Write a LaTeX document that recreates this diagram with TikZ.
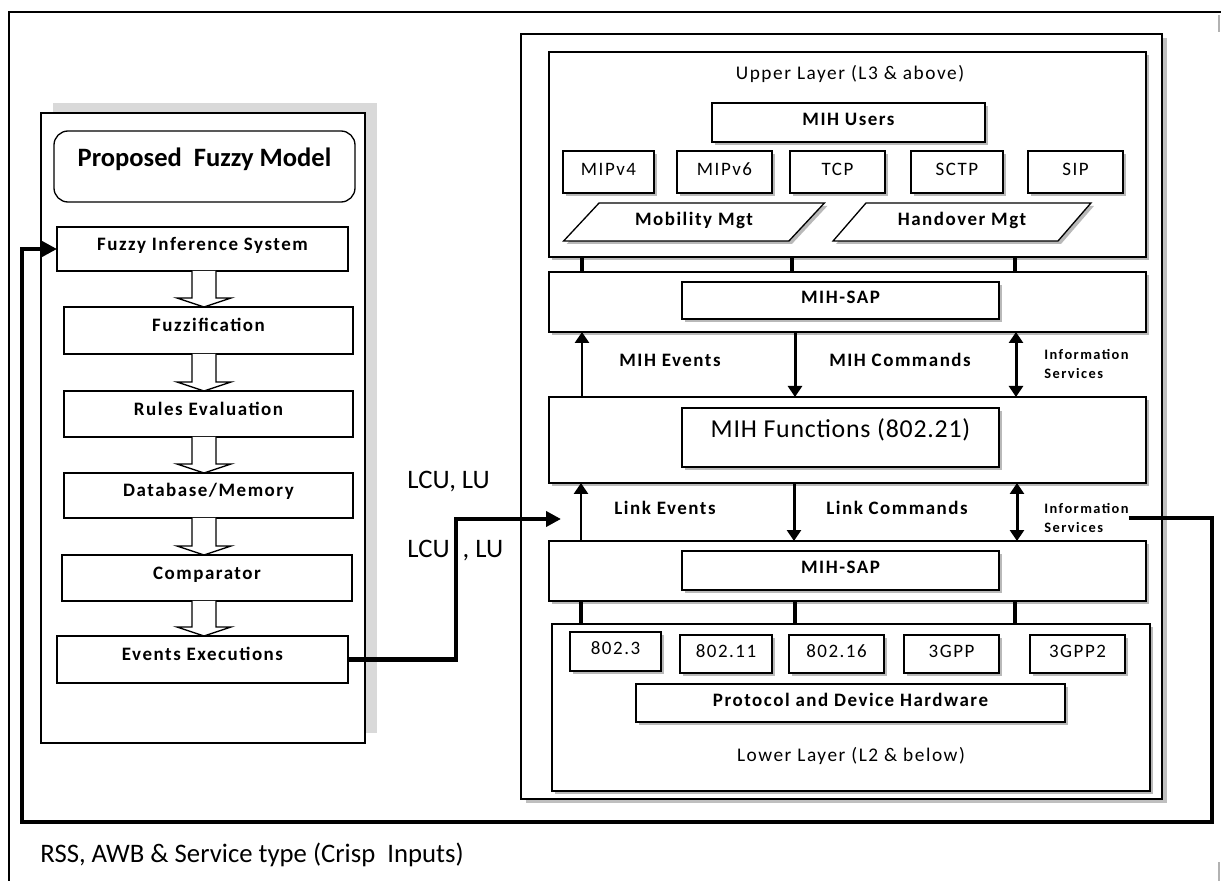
\documentclass[tikz,border=0pt]{standalone}
\usepackage{fontspec}
\setmainfont{Carlito}
\newfontfamily\spaced[LetterSpace=8]{Carlito}
\newfontfamily\spacedsm[LetterSpace=10]{Carlito}
\newfontfamily\slight[LetterSpace=3]{Carlito}
\usetikzlibrary{arrows.meta,shapes.geometric,shadows,calc}
\newcommand{\ftlab}{\spaced\bfseries\fontsize{10.8pt}{12pt}\selectfont}
\newcommand{\ftreg}{\spaced\fontsize{10.8pt}{12pt}\selectfont}
\newcommand{\ftsml}{\spacedsm\bfseries\fontsize{8.2pt}{11.3pt}\selectfont}
\newcommand{\ftlay}{\spaced\fontsize{11pt}{12pt}\selectfont}
\newcommand{\ftfun}{\slight\fontsize{14.7pt}{17pt}\selectfont}
\newcommand{\fttitle}{\bfseries\fontsize{15.1pt}{17pt}\selectfont}
\newcommand{\ftbig}{\fontsize{15.2pt}{17pt}\selectfont}
\newcommand{\bx}[7][]{\node[bx,#1,minimum width={(#5-#3)*0.02cm},minimum height={(#6-#4)*0.02cm}] (#2) at ({(#3+#5)/2},{(#4+#6)/2}) {#7};}
\newcommand{\harrow}[2]{\draw[harr] ($(ax |- #1.south)+(-12,0)$) -- ($(ax |- #2.north)+(-12,-9)$) -- ($(ax |- #2.north)+(-27,-9)$) -- (ax |- #2.north) -- ($(ax |- #2.north)+(27,-9)$) -- ($(ax |- #2.north)+(12,-9)$) -- ($(ax |- #1.south)+(12,0)$);}
\tikzset{
  bx/.style={draw, line width=0.75pt, fill=white, inner sep=0pt, outer sep=0pt, text height=0.25cm, text depth=0.12cm},
  lft/.style={text height=0.25cm, text depth=0.2cm},
  sh/.style={drop shadow={shadow xshift=0.06cm, shadow yshift=-0.06cm, fill=gray!55, opacity=1}},
  bigsh/.style={drop shadow={shadow xshift=0.09cm, shadow yshift=-0.09cm, fill=gray!50, opacity=1}},
  para/.style={trapezium, trapezium left angle=40, trapezium right angle=140, trapezium stretches=true, draw, line width=0.75pt, fill=white, inner sep=0pt, sh, text height=0.25cm, text depth=0.12cm},
  lbl/.style={inner sep=0pt, anchor=base},
  thk/.style={line width=2.3pt},
  conn/.style={line width=2pt},
  marr/.style={line width=1.7pt, -{Triangle[length=0.22cm,width=0.28cm]}},
  darr/.style={line width=1.7pt, {Triangle[length=0.22cm,width=0.28cm]}-{Triangle[length=0.22cm,width=0.28cm]}},
  harr/.style={line width=0.8pt, fill=white},
  bigtip/.style={-{Triangle[length=0.3cm,width=0.3cm]}}
}
\begin{document}
\begin{tikzpicture}[x=0.02cm,y=-0.02cm]
\useasboundingbox (0,0) rectangle (1221,881);
% outer frame fragments
\draw[line width=0.8pt] (9,881) -- (9,12) -- (1221,12);
\draw[gray!60, line width=1pt] (1219,15) -- (1219,32);
\draw[gray!60, line width=1pt] (1219,862) -- (1219,881);

% ---------- left panel ----------
\fill[gray!30] (53,103) rectangle (377,733);
\bx{lpanel}{41}{113}{365}{743}{}
\node[draw, line width=0.75pt, rounded corners=0.28cm, fill=white, inner sep=0pt,
      minimum width={301*0.02cm}, minimum height={71*0.02cm},
      text height=0.34cm, text depth=0.34cm] (title) at (204.5,166.5) {\fttitle Proposed~ Fuzzy Model};
\bx[lft]{fis}{57}{227}{348}{271}{\ftlab Fuzzy Inference System}
\bx[lft]{fuzz}{64}{307}{353}{354}{\ftlab Fuzzification}
\bx[lft]{rules}{64}{391}{353}{437}{\ftlab Rules Evaluation}
\bx[lft]{db}{64}{473}{353}{518}{\ftlab Database/Memory}
\bx[lft]{comp}{62}{555}{352}{601}{\ftlab Comparator}
\bx[lft]{ev}{57}{636}{348}{683}{\ftlab Events Executions}
\coordinate (ax) at (204,0);
\harrow{fis}{fuzz}
\harrow{fuzz}{rules}
\harrow{rules}{db}
\harrow{db}{comp}
\harrow{comp}{ev}

% ---------- right panel ----------
\bx[bigsh]{rpanel}{521}{34}{1162}{799}{}
\bx[sh]{upper}{549}{52}{1146}{257}{}
\node[lbl] (uplbl) at (850,80) {\ftlay Upper Layer (L3 \& above)};
\bx[sh]{users}{712}{103}{985}{142}{\ftlab MIH Users}
\bx[sh]{mip4}{563}{151}{654}{193}{\ftreg MIPv4}
\bx[sh]{mip6}{677}{151}{772}{193}{\ftreg MIPv6}
\bx[sh]{tcp}{790}{151}{885}{193}{\ftreg TCP}
\bx[sh]{sctp}{911}{151}{1003}{193}{\ftreg SCTP}
\bx[sh]{sip}{1028}{151}{1123}{193}{\ftreg SIP}
\node[para, minimum width={262*0.02cm}, minimum height={38*0.02cm}] (mob) at (694,222) {\ftlab Mobility Mgt};
\node[para, minimum width={260*0.02cm}, minimum height={38*0.02cm}] (hand) at (962,222) {\ftlab Handover Mgt};

\bx[sh]{sap1o}{549}{272}{1146}{332}{}
\bx[sh]{sap1}{682}{282}{999}{319}{\ftlab MIH-SAP}
\bx[sh]{funco}{549}{397}{1146}{483}{}
\bx[sh,text height=0.3cm,text depth=0.3cm]{funci}{682}{408}{999}{467}{\ftfun MIH Functions (802.21)}
\bx[sh]{sap2o}{549}{541}{1146}{601}{}
\bx[sh]{sap2}{682}{551}{999}{590}{\ftlab MIH-SAP}
\bx[sh]{lower}{552}{624}{1150}{791}{}
\bx[sh]{e3}{570}{632}{661}{671}{\ftreg 802.3}
\bx[sh]{e11}{680}{635}{772}{673}{\ftreg 802.11}
\bx[sh]{e16}{789}{635}{884}{673}{\ftreg 802.16}
\bx[sh]{g3}{904}{635}{999}{673}{\ftreg 3GPP}
\bx[sh]{g32}{1030}{635}{1125}{673}{\ftreg 3GPP2}
\bx[sh]{pdh}{636}{684}{1065}{722}{\ftlab Protocol and Device Hardware}
\node[lbl] (lowlbl) at (851,762) {\ftlay Lower Layer (L2 \& below)};

% vertical connectors
\draw[conn] (582,0 |- upper.south) -- (582,0 |- sap1o.north);
\draw[conn] (792,0 |- upper.south) -- (792,0 |- sap1o.north);
\draw[conn] (1015,0 |- upper.south) -- (1015,0 |- sap1o.north);
\draw[conn] (581,0 |- sap2o.south) -- (581,0 |- lower.north);
\draw[conn] (795,0 |- sap2o.south) -- (795,0 |- lower.north);
\draw[conn] (1015,0 |- sap2o.south) -- (1015,0 |- lower.north);

% primitive arrows
\draw[marr] (582,0 |- funco.north) -- (582,0 |- sap1o.south);
\draw[marr] (795,0 |- sap1o.south) -- (795,0 |- funco.north);
\draw[darr] (1016,0 |- sap1o.south) -- (1016,0 |- funco.north);
\draw[marr] (581,0 |- sap2o.north) -- (581,0 |- funco.south);
\draw[marr] (794,0 |- funco.south) -- (794,0 |- sap2o.north);
\draw[darr] (1017,0 |- funco.south) -- (1017,0 |- sap2o.north);

\node[lbl] (mev) at (670,367) {\ftlab MIH Events};
\node[lbl] (mcmd) at (900,367) {\ftlab MIH Commands};
\node[lbl] (lev) at (665,515) {\ftlab Link Events};
\node[lbl] (lcmd) at (897,515) {\ftlab Link Commands};
\node[inner sep=0pt, anchor=west, align=left, font=\ftsml] (info1) at (1044,364) {Information\\Services};
\node[inner sep=0pt, anchor=west, align=left, font=\ftsml] (info2) at (1044,518) {Information\\Services};

% LCU labels
\node[inner sep=0pt, anchor=base west] (lcu1) at (407,489) {\ftbig LCU, LU};
\node[inner sep=0pt, anchor=base west] (lcu2) at (407,558) {\ftbig LCU\hspace{0.26cm}, LU};

% bottom label
\node[inner sep=0pt, anchor=base west] (crisp) at (40,862) {\ftbig RSS, AWB \& Service type (Crisp~ Inputs)};

% connectors
\coordinate (bend) at (456,519);
\coordinate (lkin) at (561,519);
\draw[thk, bigtip] (ev.east) -| (bend) -- (lkin);
\coordinate (lpa) at (1212,822);
\coordinate (lpb) at (22,822);
\draw[thk, bigtip] (info2.east) -| (lpa) -- (lpb) |- (fis.west);
\end{tikzpicture}
\end{document}
